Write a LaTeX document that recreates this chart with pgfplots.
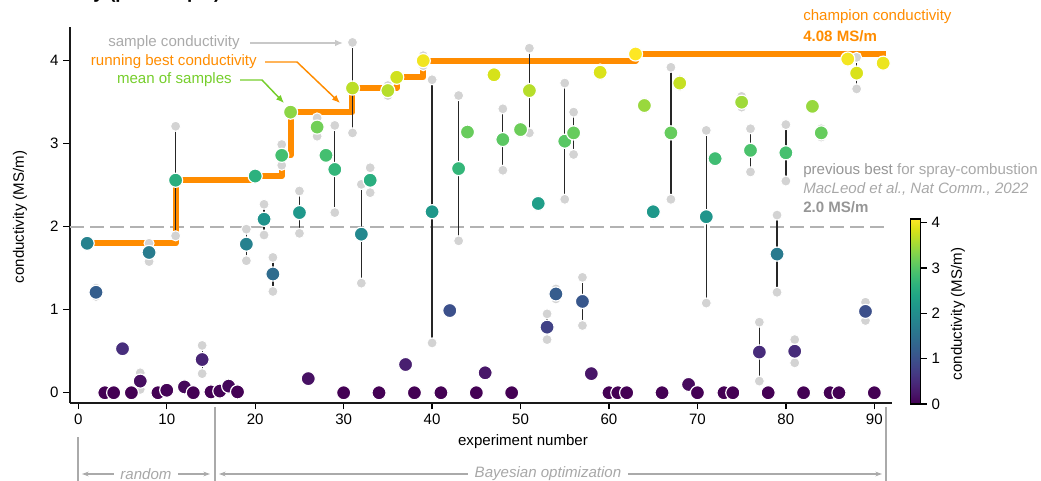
\documentclass[border=0pt]{standalone}
\usepackage{fontspec}
\setmainfont{Liberation Sans}
\usepackage{pgfplots}
\pgfplotsset{compat=1.18}
\usepackage{pgfplotstable}
\usetikzlibrary{arrows.meta}

\definecolor{dorange}{RGB}{255,140,0}
\definecolor{sgray}{RGB}{211,211,211}
\definecolor{txtgray}{RGB}{168,168,168}
\definecolor{dgray}{RGB}{150,150,150}
\definecolor{argray}{RGB}{200,200,200}
\definecolor{mgreen}{RGB}{118,206,44}
\definecolor{dashgray}{RGB}{178,178,178}
\definecolor{lgray}{RGB}{170,170,170}

\newcommand{\fs}{\fontsize{11.3}{13.5}\selectfont}

\pgfplotstableread{
x m lo hi
1 1.80 1.77 1.83
2 1.21 1.16 1.26
3 0 0 0
4 0 0 0
5 0.53 0.53 0.53
6 0 0 0
7 0.14 0.04 0.24
8 1.69 1.58 1.80
9 0 0 0
10 0.03 0.03 0.03
11 2.56 1.89 3.21
12 0.07 0.07 0.07
13 0 0 0
14 0.40 0.23 0.57
15 0.01 0.01 0.01
16 0.02 0.02 0.02
17 0.08 0.08 0.08
18 0.01 0.01 0.01
19 1.79 1.59 1.97
20 2.61 2.61 2.61
21 2.09 1.90 2.27
22 1.43 1.22 1.63
23 2.86 2.74 2.99
24 3.38 3.38 3.38
25 2.17 1.92 2.43
26 0.17 0.17 0.17
27 3.20 3.09 3.31
28 2.86 2.86 2.86
29 2.69 2.17 3.22
30 0 0 0
31 3.67 3.13 4.22
32 1.91 1.32 2.51
33 2.56 2.41 2.71
34 0 0 0
35 3.64 3.58 3.70
36 3.80 3.80 3.80
37 0.34 0.34 0.34
38 0 0 0
39 4.00 3.94 4.06
40 2.18 0.60 3.77
41 0 0 0
42 0.99 0.99 0.99
43 2.70 1.83 3.58
44 3.14 3.14 3.14
45 0 0 0
46 0.24 0.24 0.24
47 3.83 3.83 3.83
48 3.05 2.68 3.42
49 0 0 0
50 3.17 3.13 3.21
51 3.64 3.13 4.15
52 2.28 2.24 2.32
53 0.79 0.64 0.95
54 1.19 1.13 1.25
55 3.03 2.33 3.73
56 3.13 2.87 3.38
57 1.10 0.81 1.39
58 0.23 0.23 0.23
59 3.86 3.82 3.90
60 0 0 0
61 0 0 0
62 0 0 0
63 4.08 4.08 4.08
64 3.46 3.42 3.50
65 2.18 2.14 2.22
66 0 0 0
67 3.13 2.33 3.92
68 3.73 3.69 3.77
69 0.10 0.06 0.14
70 0 0 0
71 2.12 1.08 3.16
72 2.82 2.82 2.82
73 0 0 0
74 0 0 0
75 3.50 3.44 3.57
76 2.92 2.66 3.18
77 0.49 0.14 0.85
78 0 0 0
79 1.67 1.21 2.14
80 2.89 2.55 3.23
81 0.50 0.36 0.64
82 0 0 0
83 3.45 3.45 3.45
84 3.13 3.08 3.18
85 0 0 0
86 0 0 0
87 4.02 4.02 4.02
88 3.85 3.66 4.04
89 0.98 0.87 1.09
90 0 0 0
91 3.97 3.97 3.97
}\data

\begin{document}
\begin{tikzpicture}
\begin{axis}[
  scale only axis, width=616.5pt, height=281.8pt,
  xmin=-0.94, xmax=92, ymin=-0.12, ymax=4.406,
  axis lines*=left,
  axis line style={line width=1.5pt, black!90},
  tick align=outside,
  major tick length=5pt,
  tick style={line width=1pt, black},
  xtick={0,10,...,90}, ytick={0,1,2,3,4},
  ticklabel style={font=\fs},
  /pgf/number format/assume math mode=true,
  clip=false,
  colormap/viridis,
  point meta min=0, point meta max=4.08,
  colorbar,
  colorbar style={
    at={(parent axis.south east)}, anchor=south west,
    xshift=5.6pt, yshift=-1pt,
    width=7.5pt, height=138.75pt,
    ytick={0,1,2,3,4}, xtick=\empty,
    ytick pos=right, yticklabel pos=right,
    tick align=outside,
    major tick length=4.5pt,
    tick style={line width=0.8pt, black},
    yticklabel style={font=\fs, /pgf/number format/assume math mode=true},
    axis line style={line width=0.8pt},
  },
]
\addplot[dashgray, line width=1.5pt, dash pattern=on 10.5pt off 4.5pt, forget plot] coordinates {(-0.94,2) (91.1,2)};
\addplot[const plot, dorange, line width=4.5pt, line join=round, forget plot] coordinates {(1,1.80) (11,2.56) (20,2.61) (23,2.86) (24,3.38) (31,3.67) (36,3.80) (39,4.00) (63,4.08) (91.3,4.08)};
\addplot[only marks, mark=none, black!85, forget plot,
  error bars/.cd, y dir=plus, y explicit, error mark=none,
  error bar style={draw=black!85, line width=0.95pt}]
  table[x=x, y=lo, y error expr=\thisrow{hi}-\thisrow{lo}] {\data};
\addplot[only marks, mark=*, mark size=3.8pt, mark options={fill=sgray, draw=white, line width=0.75pt}, forget plot] table[x=x, y=lo] {\data};
\addplot[only marks, mark=*, mark size=3.8pt, mark options={fill=sgray, draw=white, line width=0.75pt}, forget plot] table[x=x, y=hi] {\data};
\addplot[scatter, only marks, mark=*, mark size=5.3pt,
  scatter/use mapped color={draw=white, fill=mapped color},
  mark options={line width=0.9pt}]
  table[x=x, y=m, meta=m] {\data};
\end{axis}

\begin{scope}[x=0.75pt, y=-0.75pt, shift={(-52.5pt,302.025pt)}]
  % title (cropped at top, only descenders visible)
  \node[anchor=base east, font=\fontsize{14}{16}\selectfont\bfseries, inner sep=0] at (104,-1.5) {Conductivity};
  \node[anchor=base west, font=\fontsize{14}{16}\selectfont\bfseries, inner sep=0] at (109,-1.5) {(per sample)};
  % labels
  \node[rotate=90, font=\fs] at (20,217) {conductivity (MS/m)};
  \node[font=\fs] at (523,442) {experiment number};
  \node[rotate=90, font=\fs] at (958,314) {conductivity (MS/m)};
  % legend annotations
  \node[anchor=east, text=lgray, font=\fs, inner sep=0] at (240,43) {sample conductivity};
  \draw[-{Latex[length=6pt,width=5pt]}, argray, line width=1.1pt] (250,43) -- (343,43);
  \node[anchor=east, text=dorange, font=\fs, inner sep=0] at (257,62) {running best conductivity};
  \draw[-{Latex[length=6pt,width=5pt]}, dorange, line width=1.1pt, line join=round] (265,62) -- (297,62) -- (340,103);
  \node[anchor=east, text=mgreen, font=\fs, inner sep=0] at (232,80) {mean of samples};
  \draw[-{Latex[length=6pt,width=5pt]}, mgreen, line width=1.1pt, line join=round] (240,80) -- (262,80) -- (284,103);
  % right texts
  \node[anchor=west, text=dorange, font=\fs, inner sep=0] at (803,17) {champion conductivity};
  \node[anchor=west, text=dorange, font=\fs\bfseries, inner sep=0] at (803,36) {4.08 MS/m};
  \node[anchor=west, font=\fs, inner sep=0] at (803,171) {\textcolor{dgray}{previous best} \textcolor{txtgray}{for spray-combustion}};
  \node[anchor=west, text=txtgray, font=\fs\itshape, inner sep=0] at (803,189) {MacLeod et al., Nat Comm., 2022};
  \node[anchor=west, text=dgray, font=\fs\bfseries, inner sep=0] at (803,207) {2.0 MS/m};
  % bottom phase annotations
  \draw[lgray, line width=0.8pt] (78,437) -- (78,481);
  \draw[lgray, line width=0.8pt] (215,407) -- (215,481);
  \draw[lgray, line width=0.8pt] (886,407) -- (886,481);
  \draw[{Stealth[length=5pt,width=3.5pt]}-{Stealth[length=5pt,width=3.5pt]}, lgray, line width=0.8pt] (82,474) -- (210,474);
  \node[fill=white, text=txtgray, font=\fs\itshape, inner xsep=5pt, inner ysep=1pt] at (146,474) {random};
  \draw[{Stealth[length=5pt,width=3.5pt]}-{Stealth[length=5pt,width=3.5pt]}, lgray, line width=0.8pt] (219,474) -- (882,474);
  \node[fill=white, text=txtgray, font=\fs\itshape, inner xsep=5pt, inner ysep=1pt] at (548,474) {Bayesian optimization};
  \pgfresetboundingbox
  \path[use as bounding box] (0,0) rectangle (1041,481);
\end{scope}
\end{tikzpicture}
\end{document}
